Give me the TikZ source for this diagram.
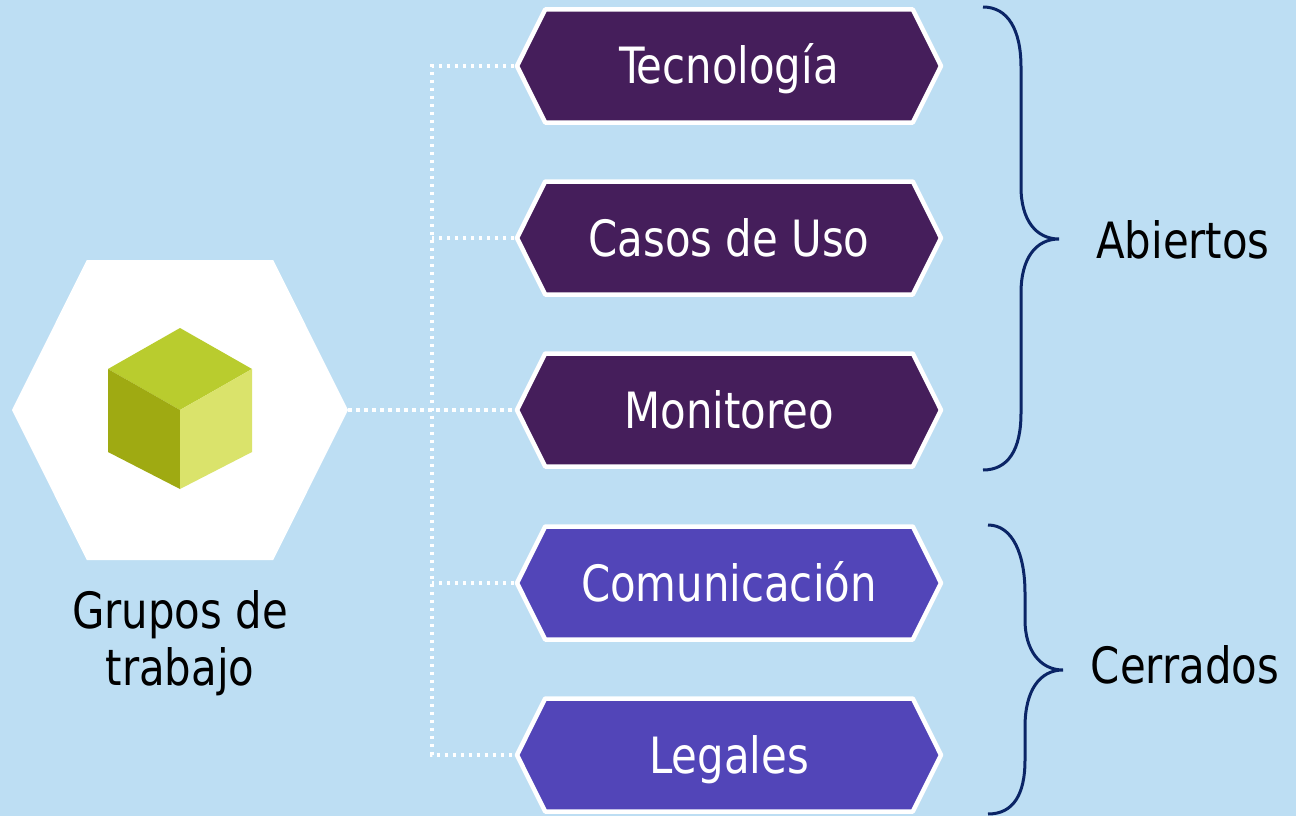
\documentclass[tikz,border=0pt]{standalone}
\usepackage{fontspec}
\setmainfont{DejaVu Sans Condensed}[FakeStretch=0.93]
\usetikzlibrary{shapes.symbols}
\definecolor{bgblue}{RGB}{189,222,243}
\definecolor{darkpurple}{RGB}{69,30,91}
\definecolor{lightpurple}{RGB}{82,69,184}
\definecolor{cubetop}{RGB}{185,204,46}
\definecolor{cubeleft}{RGB}{159,170,18}
\definecolor{cuberight}{RGB}{218,227,107}
\definecolor{bracenavy}{RGB}{11,37,102}
\tikzset{
  hexbg/.style={signal, signal to=east and west, signal pointer angle=127, fill=white, minimum width=336pt, minimum height=300pt, inner sep=0pt},
  tema/.style={signal, signal to=east and west, signal pointer angle=127, draw=white, line width=4.5pt, line join=round, minimum width=424pt, minimum height=113pt, inner sep=0pt, text height=36pt, text depth=0pt, text=white, font=\fontsize{50}{60}\selectfont},
  etiqueta/.style={text=black, font=\fontsize{50}{57}\selectfont, inner sep=0pt},
  dotline/.style={white, line width=3.5pt, dash pattern=on 3.5pt off 4.5pt},
  llave/.style={bracenavy, line width=3pt}
}
\begin{document}
\begin{tikzpicture}[x=1pt,y=-1pt]
\fill[bgblue] (0,0) rectangle (1296,816);
\useasboundingbox (0,0) rectangle (1296,816);
\node [hexbg] (grupos) at (180,410) {};
\fill[cubetop] (180,328) -- (252,369) -- (180,410) -- (108,369) -- cycle;
\fill[cubeleft] (108,369) -- (180,410) -- (180,489) -- (108,452) -- cycle;
\fill[cuberight] (252,369) -- (180,410) -- (180,489) -- (252,452) -- cycle;
\node [etiqueta, align=center] (gruposlbl) at (180,643) {Grupos de\\trabajo};
\node [tema, fill=darkpurple] (tec) at (729,66) {Tecnología};
\node [tema, fill=darkpurple] (casos) at (729,238) {Casos de Uso};
\node [tema, fill=darkpurple] (moni) at (729,410) {Monitoreo};
\node [tema, fill=lightpurple] (comu) at (729,583) {Comunicación};
\node [tema, fill=lightpurple] (legal) at (729,755) {Legales};
\coordinate (trunk) at (432,410);
\draw [dotline] (grupos.east) -- (moni.west);
\draw [dotline] (tec.west) -- (tec.west -| trunk) -- (legal.west -| trunk) -- (legal.west);
\draw [dotline] (casos.west) -- (casos.west -| trunk);
\draw [dotline] (comu.west) -- (comu.west -| trunk);
\draw [llave] (983,7) .. controls (1008,7) and (1021,30) .. (1021,67) -- (1021,187) .. controls (1021,220) and (1036,239) .. (1059,239) .. controls (1036,239) and (1021,258) .. (1021,293) -- (1021,413) .. controls (1021,450) and (1008,470) .. (983,470);
\draw [llave] (988,525) .. controls (1013,525) and (1025,555) .. (1025,593) -- (1025,620) .. controls (1025,650) and (1040,670) .. (1063,670) .. controls (1040,670) and (1025,690) .. (1025,727) -- (1025,760) .. controls (1025,795) and (1013,814) .. (988,814);
\node [etiqueta] (abiertos) at (1183,240) {Abiertos};
\node [etiqueta] (cerrados) at (1185,665) {Cerrados};
\end{tikzpicture}
\end{document}
